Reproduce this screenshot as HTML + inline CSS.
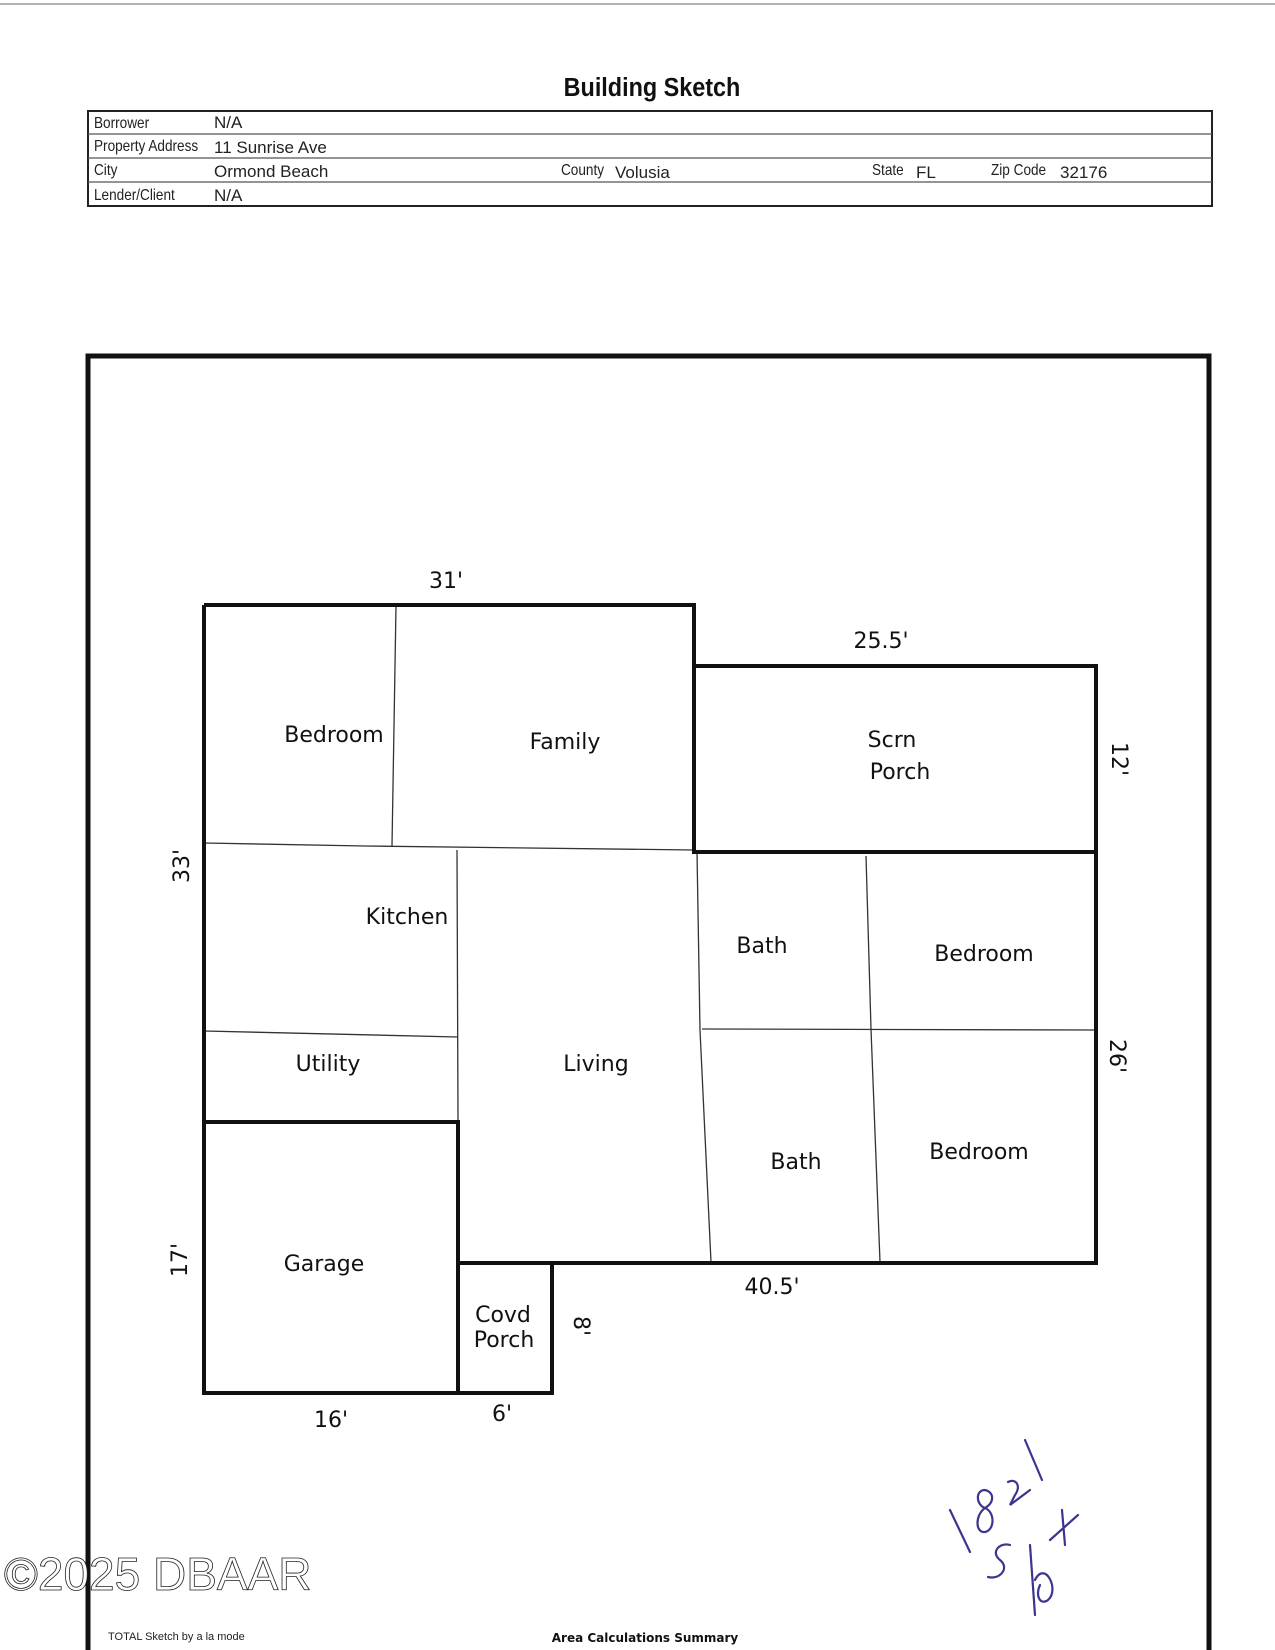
<!DOCTYPE html>
<html><head><meta charset="utf-8"><style>
html,body{margin:0;padding:0;background:#fff}
svg{display:block}
.h{font-family:"Liberation Sans Narrow","Liberation Sans",sans-serif;font-size:16px;fill:#222}
.v{font-family:"Liberation Sans",sans-serif;font-size:17px;fill:#222}
.r{font-family:"DejaVu Sans","Liberation Sans",sans-serif;font-size:22px;fill:#111}
</style></head><body>
<svg width="1275" height="1650" viewBox="0 0 1275 1650" xmlns="http://www.w3.org/2000/svg">
<rect width="1275" height="1650" fill="#fff"/>
<line x1="0" y1="4" x2="1275" y2="4" stroke="#999" stroke-width="1.5"/>
<text x="652" y="96" text-anchor="middle" font-family="Liberation Sans Narrow,Liberation Sans,sans-serif" font-weight="bold" font-size="26" fill="#111" transform="translate(652 0) scale(0.9 1) translate(-652 0)">Building Sketch</text>
<rect x="88" y="111" width="1124" height="95" fill="none" stroke="#222" stroke-width="2"/>
<line x1="88" y1="134" x2="1212" y2="134" stroke="#555" stroke-width="1.2"/>
<line x1="88" y1="158" x2="1212" y2="158" stroke="#555" stroke-width="1.2"/>
<line x1="88" y1="182" x2="1212" y2="182" stroke="#555" stroke-width="1.2"/>
<g class="h">
<text x="94" y="128" transform="translate(94 0) scale(0.85 1) translate(-94 0)">Borrower</text>
<text x="94" y="151" transform="translate(94 0) scale(0.85 1) translate(-94 0)">Property Address</text>
<text x="94" y="175" transform="translate(94 0) scale(0.85 1) translate(-94 0)">City</text>
<text x="94" y="200" transform="translate(94 0) scale(0.85 1) translate(-94 0)">Lender/Client</text>
<text x="561" y="175" transform="translate(561 0) scale(0.85 1) translate(-561 0)">County</text>
<text x="872" y="175" transform="translate(872 0) scale(0.85 1) translate(-872 0)">State</text>
<text x="991" y="175" transform="translate(991 0) scale(0.85 1) translate(-991 0)">Zip Code</text>
</g>
<g class="v">
<text x="214" y="128">N/A</text>
<text x="214" y="153">11 Sunrise Ave</text>
<text x="214" y="177">Ormond Beach</text>
<text x="615" y="178">Volusia</text>
<text x="916" y="178">FL</text>
<text x="1060" y="178">32176</text>
<text x="214" y="201">N/A</text>
</g>
<path d="M88 1650 V356 H1209 V1650" fill="none" stroke="#111" stroke-width="5"/>
<g stroke="#333" stroke-width="1.3" fill="none">
<path d="M396 606 L392 846"/>
<path d="M204 843 L365 846 L694 850"/>
<path d="M457 850 L458 1120"/>
<path d="M204 1031 L458 1037"/>
<path d="M697 852 L700 1030 L711 1262"/>
<path d="M866 856 L871 1029 L880 1262"/>
<path d="M702 1029 L1096 1030"/>
</g>
<g stroke="#111" stroke-width="4" fill="none">
<path d="M204 605 H694 V852"/>
<path d="M204 605 V1393 H552 V1265"/>
<rect x="694" y="666" width="402" height="186"/>
<path d="M1096 852 V1263 H458"/>
<path d="M204 1122 H458 V1393"/>
</g>
<g class="r" text-anchor="middle">
<text x="446" y="588">31'</text>
<text x="881" y="648">25.5'</text>
<text x="772" y="1294">40.5'</text>
<text x="331" y="1427">16'</text>
<text x="502" y="1421">6'</text>
<text transform="translate(1112 759) rotate(90)" y="0">12'</text>
<text transform="translate(1110 1056) rotate(90)" y="0">26'</text>
<text transform="translate(574 1326) rotate(90)" y="0">8'</text>
<text transform="translate(189 866) rotate(-90)" y="0">33'</text>
<text transform="translate(187 1260) rotate(-90)" y="0">17'</text>
</g>
<g class="r" text-anchor="middle">
<text x="334" y="742">Bedroom</text>
<text x="565" y="749">Family</text>
<text x="892" y="747">Scrn</text>
<text x="900" y="779">Porch</text>
<text x="407" y="924">Kitchen</text>
<text x="762" y="953">Bath</text>
<text x="984" y="961">Bedroom</text>
<text x="328" y="1071">Utility</text>
<text x="596" y="1071">Living</text>
<text x="796" y="1169">Bath</text>
<text x="979" y="1159">Bedroom</text>
<text x="324" y="1271">Garage</text>
<text x="503" y="1322">Covd</text>
<text x="504" y="1347">Porch</text>
</g>
<text x="4" y="1590" font-family="Liberation Sans Narrow,Liberation Sans,sans-serif" font-size="46" fill="#fff" stroke="#222" stroke-width="0.8">©2025 DBAAR</text>
<text x="108" y="1640" font-family="Liberation Sans Narrow,Liberation Sans,sans-serif" font-size="11" fill="#222">TOTAL Sketch by a la mode</text>
<text x="645" y="1642" text-anchor="middle" font-family="DejaVu Sans,Liberation Sans,sans-serif" font-weight="bold" font-size="12" fill="#111">Area Calculations Summary</text>
<g fill="none" stroke="#3a3590" stroke-width="2.2" stroke-linecap="round">
<path d="M950 1510 L970 1552"/>
<path d="M985 1490 C975 1490 976 1505 985 1508 C995 1512 995 1530 985 1532 C975 1533 975 1515 985 1508 C995 1502 994 1492 985 1490"/>
<path d="M1008 1482 C1015 1478 1022 1485 1015 1495 L1010 1505 L1030 1490"/>
<path d="M1025 1440 L1042 1480"/>
<path d="M1010 1545 C1000 1542 990 1552 1000 1560 C1010 1568 1000 1580 988 1577"/>
<path d="M1030 1545 L1035 1615"/>
<path d="M1035 1580 C1045 1560 1060 1590 1048 1600 C1040 1606 1035 1595 1040 1585"/>
<path d="M1050 1540 L1078 1515"/>
<path d="M1062 1510 L1065 1545"/>
</g>
</svg>
</body></html>
